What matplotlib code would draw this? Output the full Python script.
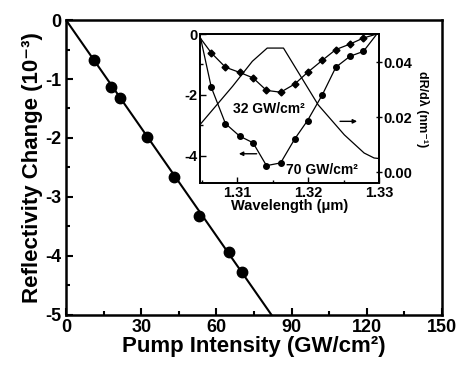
import numpy as np
import matplotlib
matplotlib.use("Agg")
import matplotlib.pyplot as plt
from matplotlib.ticker import MultipleLocator, FixedLocator
from matplotlib.font_manager import FontProperties

plt.rcParams['font.family'] = ['Liberation Sans', 'DejaVu Sans']
plt.rcParams['font.weight'] = 'bold'
plt.rcParams['axes.unicode_minus'] = False

# Main panel data
pump = [11.3, 18.0, 21.6, 32.5, 43.1, 53.1, 65.0, 70.2]
refl = [-0.67, -1.14, -1.33, -1.98, -2.66, -3.32, -3.93, -4.27]
fit_x = [0, 82]
fit_y = [0, -5]
main_xticks = [0, 30, 60, 90, 120, 150]
main_yticks = [0, -1, -2, -3, -4, -5]

# Inset data
wl = [1.3048, 1.3063, 1.3083, 1.3103, 1.3122, 1.3141, 1.3161, 1.3181,
      1.3199, 1.3220, 1.3239, 1.3259, 1.3278, 1.3297]
r32 = [-0.15, -0.62, -1.09, -1.26, -1.44, -1.85, -1.91, -1.64,
       -1.26, -0.86, -0.51, -0.33, -0.13, 0.0]
r70 = [-0.15, -1.75, -2.94, -3.35, -3.57, -4.32, -4.23, -3.44,
       -2.84, -1.99, -1.09, -0.73, -0.57, 0.0]
deriv_wl = [1.3047, 1.3093, 1.3121, 1.3142, 1.3165, 1.3214, 1.3251, 1.3279, 1.3293, 1.3300]
deriv = [0.0173, 0.0312, 0.0403, 0.0451, 0.0451, 0.0245, 0.0136, 0.0070, 0.0052, 0.0050]
ins_xticks = [1.31, 1.32, 1.33]
ins_yticks = [0, -2, -4]
ins_rticks = [0.00, 0.02, 0.04]

fig = plt.figure(figsize=(4.59, 3.67), dpi=100)
ax = fig.add_axes([0.1438, 0.1417, 0.8192, 0.8038])
ax.plot(fit_x, fit_y, color='black', lw=1.5, zorder=2)
ax.plot(pump, refl, 'o', color='black', ms=7.5, zorder=3)
ax.set_xlim(0, 150)
ax.set_ylim(-5, 0)
ax.set_xticks(main_xticks)
ax.set_xticklabels([str(v) for v in main_xticks])
ax.set_yticks(main_yticks)
ax.set_yticklabels([str(v) for v in main_yticks])
ax.xaxis.set_minor_locator(MultipleLocator(15))
ax.yaxis.set_minor_locator(MultipleLocator(0.5))
ax.tick_params(which='both', direction='in', top=False, right=False, width=1.5)
ax.tick_params(which='major', length=5, pad=3)
ax.tick_params(which='minor', length=3)
for s in ax.spines.values():
    s.set_linewidth(1.8)
ax.set_xlabel('Pump Intensity (GW/cm\u00b2)', fontsize=16, fontweight='bold', labelpad=0)
ax.set_ylabel('Reflectivity Change (10\u207b\u00b3)', fontsize=16, fontweight='bold', labelpad=2)

# Inset
ins = fig.add_axes([0.4357, 0.5005, 0.3900, 0.4068])
ins.plot(wl, r32, '-D', color='black', lw=0.9, ms=3.5, markevery=slice(1, -1))
ins.plot(wl, r70, '-o', color='black', lw=0.9, ms=4, markevery=slice(1, -1))
ins.set_xlim(1.3047, 1.3300)
ins.set_ylim(-4.9, 0)
ins.set_xticks(ins_xticks)
ins.set_xticklabels(['%.2f' % v for v in ins_xticks])
ins.set_yticks(ins_yticks)
ins.set_yticklabels([str(v) for v in ins_yticks])
ins.xaxis.set_minor_locator(MultipleLocator(0.005))
ins.yaxis.set_minor_locator(MultipleLocator(1))
ins.tick_params(which='both', direction='in', top=False, right=False, width=1.0)
ins.tick_params(which='major', length=4, pad=2)
ins.tick_params(which='minor', length=2.5)
for s in ins.spines.values():
    s.set_linewidth(1.3)
ins.set_xlabel('Wavelength (\u03bcm)', fontsize=10.5, fontweight='bold', labelpad=-1)

ins2 = ins.twinx()
ins2.plot(deriv_wl, deriv, '-', color='black', lw=0.9)
ins2.set_ylim(-0.004, 0.0502)
ins2.set_yticks(ins_rticks)
ins2.set_yticklabels(['%.2f' % v for v in ins_rticks])
ins2.tick_params(which='major', direction='inout', length=5, width=1.0, pad=1)
ins2.set_ylabel('dR/d\u03bb (nm\u207b\u00b9)', fontsize=9, fontweight='bold',
                rotation=-90, labelpad=12)
for s in ins2.spines.values():
    s.set_linewidth(1.3)

# annotations
ins.text(1.3145, -2.45, '32 GW/cm\u00b2', fontsize=10, fontweight='bold', ha='center', va='center')
ins.text(1.3219, -4.46, '70 GW/cm\u00b2', fontsize=10, fontweight='bold', ha='center', va='center')
ins.annotate('', xy=(1.3098, -3.93), xytext=(1.3131, -3.93),
             arrowprops=dict(arrowstyle='-|>', color='black', lw=1.0, mutation_scale=6))
ins2.annotate('', xy=(1.3273, 0.0185), xytext=(1.3241, 0.0185),
              arrowprops=dict(arrowstyle='-|>', color='black', lw=1.0, mutation_scale=6))

fig.canvas.draw()
fp_main = FontProperties(family=['Liberation Sans', 'DejaVu Sans'], weight='bold', size=13)
fp_ins = FontProperties(family=['Liberation Sans', 'DejaVu Sans'], weight='bold', size=10.5)
for lab in ax.get_xticklabels() + ax.get_yticklabels():
    lab.set_fontproperties(fp_main)
for lab in ins.get_xticklabels() + ins.get_yticklabels() + ins2.get_yticklabels():
    lab.set_fontproperties(fp_ins)

fig.savefig('out.png', dpi=100)
